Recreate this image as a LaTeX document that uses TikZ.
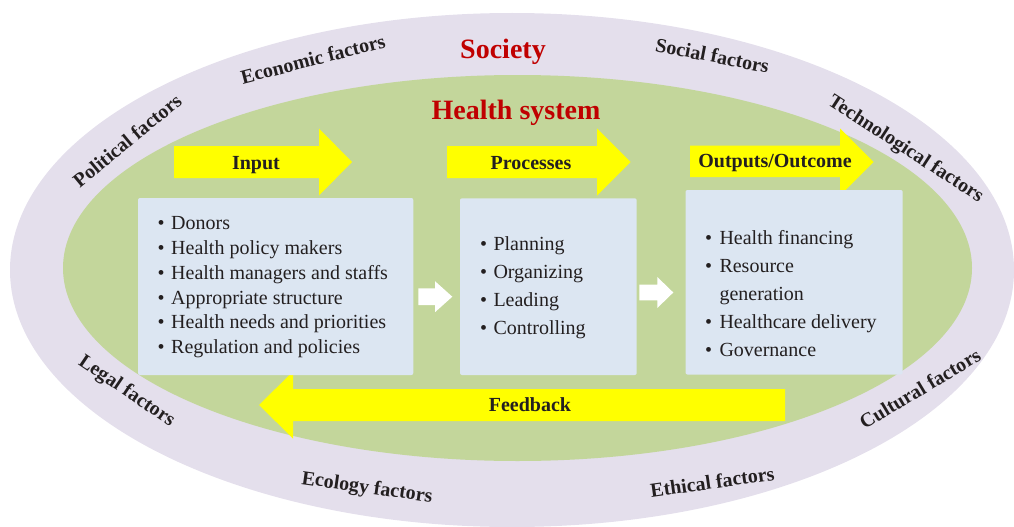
\documentclass[tikz,border=0pt]{standalone}
\usepackage{fontspec}
\setmainfont{Liberation Serif}
\begin{document}
\begin{tikzpicture}[x=1pt,y=-1pt]
\definecolor{societybg}{HTML}{E4DFEC}
\definecolor{healthbg}{HTML}{C3D69B}
\definecolor{boxbg}{HTML}{DCE6F2}
\definecolor{yarrow}{HTML}{FFFF00}
\definecolor{titlered}{HTML}{C00000}
\definecolor{txt}{HTML}{231F20}
\tikzset{
  box/.style={fill=boxbg, rounded corners=2pt, inner sep=0pt, draw=none},
  factor/.style={font=\bfseries\fontsize{20}{24}\selectfont, text=txt, text height=13.6pt, text depth=4pt, inner sep=0pt},
  title/.style={font=\bfseries\fontsize{28}{32}\selectfont, text=titlered, inner sep=0pt, anchor=base},
  arrowlabel/.style={font=\bfseries\fontsize{20}{24}\selectfont, text=txt, inner sep=0pt, anchor=base},
  item/.style={font=\fontsize{20}{24}\selectfont, text=txt, inner sep=0pt, anchor=base west},
  yellowarrow/.style={fill=yarrow},
  whitearrow/.style={fill=white}
}
\useasboundingbox (0,0) rectangle (1014,527);
% society ellipse
\begin{scope}
\clip (0,0) rectangle (1014,527);
\fill[societybg] (512,270) ellipse [x radius=502pt, y radius=257pt];
\end{scope}
% health system ellipse
\fill[healthbg] (517.5,268) ellipse [x radius=454.5pt, y radius=193pt];

% titles
\node[title] (society) at (503,59) {Society};
\node[title] (health) at (516,119) {Health system};

% yellow arrows
\fill[yellowarrow] (174,146) -- (319,146) -- (319,128.5) -- (352,162) -- (319,195.5) -- (319,178) -- (174,178) -- cycle;
\fill[yellowarrow] (447,146) -- (597,146) -- (597,128.5) -- (630.5,162) -- (597,195.5) -- (597,178) -- (447,178) -- cycle;
\fill[yellowarrow] (690,145.5) -- (840,145.5) -- (840,128.5) -- (873.5,162) -- (840,195.5) -- (840,177) -- (690,177) -- cycle;
\fill[yellowarrow] (785,389) -- (293,389) -- (293,371.5) -- (259,405) -- (293,438.5) -- (293,421) -- (785,421) -- cycle;

\node[arrowlabel] (input) at (256,169.3) {Input};
\node[arrowlabel] (processes) at (531,169) {Processes};
\node[arrowlabel] (outputs) at (775,167.3) {Outputs/Outcome};
\node[arrowlabel] (feedback) at (530,411.5) {Feedback};

% boxes
\node[box, minimum width=275.3pt, minimum height=177pt] (b1) at (275.65,286.5) {};
\node[box, minimum width=176.7pt, minimum height=176.7pt] (b2) at (548.35,286.65) {};
\node[box, minimum width=217.2pt, minimum height=184.5pt] (b3) at (794.1,282.25) {};

% white arrows between boxes
\fill[whitearrow] (418.3,288.4) -- (435,288.4) -- (435,281.2) -- (452.3,296.7) -- (435,312.2) -- (435,305) -- (418.3,305) -- cycle;
\fill[whitearrow] (639.3,284.7) -- (657.3,284.7) -- (657.3,277) -- (673.3,292.5) -- (657.3,308) -- (657.3,300.3) -- (639.3,300.3) -- cycle;

% box 1 items
\node[item] (i11) at (157.5,229.7) {\textbullet\hspace{6.5pt}Donors};
\node[item] (i12) at (157.5,254.5) {\textbullet\hspace{6.5pt}Health policy makers};
\node[item] (i13) at (157.5,279.3) {\textbullet\hspace{6.5pt}Health managers and staffs};
\node[item] (i14) at (157.5,304.1) {\textbullet\hspace{6.5pt}Appropriate structure};
\node[item] (i15) at (157.5,328.9) {\textbullet\hspace{6.5pt}Health needs and priorities};
\node[item] (i16) at (157.5,353.7) {\textbullet\hspace{6.5pt}Regulation and policies};
% box 2 items
\node[item] (i21) at (479.8,250) {\textbullet\hspace{6.5pt}Planning};
\node[item] (i22) at (479.8,278.2) {\textbullet\hspace{6.5pt}Organizing};
\node[item] (i23) at (479.8,306.4) {\textbullet\hspace{6.5pt}Leading};
\node[item] (i24) at (479.8,334.6) {\textbullet\hspace{6.5pt}Controlling};
% box 3 items
\node[item] (i31) at (704.8,244.3) {\textbullet\hspace{7.5pt}Health financing};
\node[item] (i32) at (704.8,272.3) {\textbullet\hspace{7.5pt}Resource};
\node[item] (i32b) at (719.3,300.3) {generation};
\node[item] (i33) at (704.8,328.3) {\textbullet\hspace{7.5pt}Healthcare delivery};
\node[item] (i34) at (704.8,356.3) {\textbullet\hspace{7.5pt}Governance};

% factors
\node[factor, rotate=14.5] (economic) at (313.5,61) {Economic factors};
\node[factor, rotate=39.5] (political) at (128.5,142) {Political factors};
\node[factor, rotate=-11] (social) at (712,57.5) {Social factors};
\node[factor, rotate=-33] (technological) at (905.5,149.5) {Technological factors};
\node[factor, rotate=-34] (legal) at (126.5,391.5) {Legal factors};
\node[factor, rotate=-8] (ecology) at (367,488.5) {Ecology factors};
\node[factor, rotate=8] (ethical) at (712.5,484) {Ethical factors};
\node[factor, rotate=31] (cultural) at (921,390.5) {Cultural factors};
\end{tikzpicture}
\end{document}
